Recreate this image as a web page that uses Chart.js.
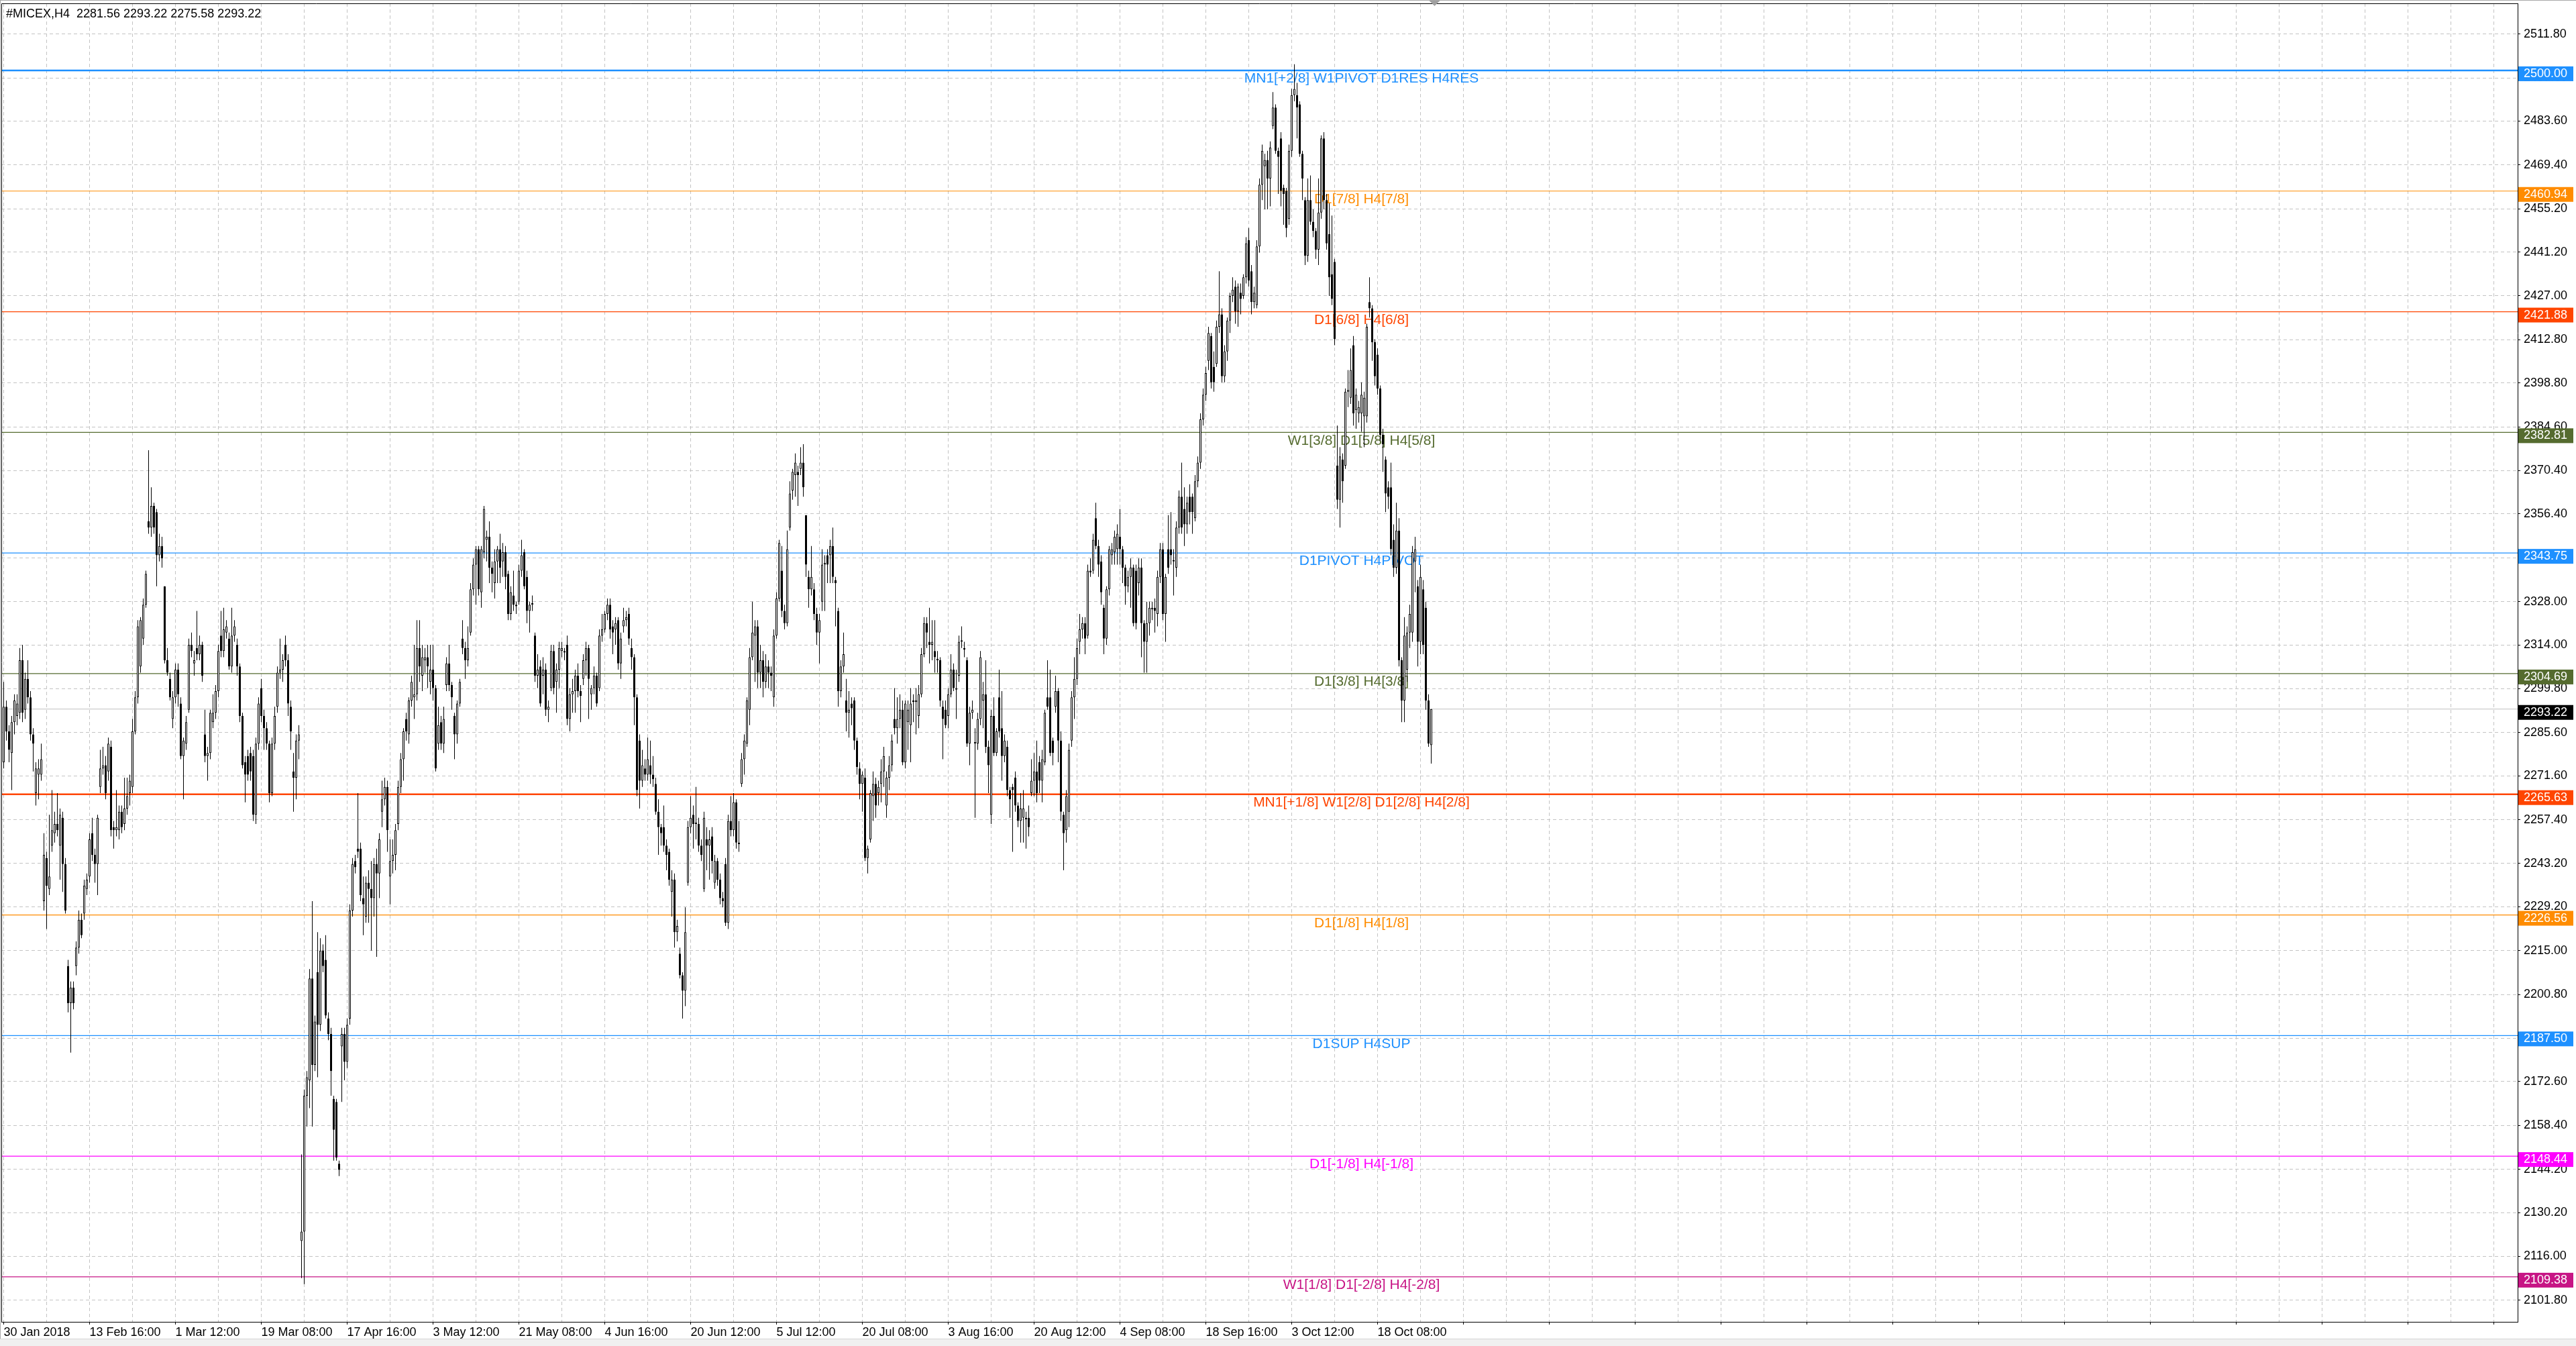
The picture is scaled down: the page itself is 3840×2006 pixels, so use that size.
<!DOCTYPE html>
<html lang="en">
<head>
<meta charset="UTF-8">
<title>#MICEX,H4</title>
<script src="https://cdn.jsdelivr.net/npm/chart.js"></script>
<style>
  html, body { margin: 0; padding: 0; background: #ffffff; overflow: hidden; }
  .wrap { position: relative; width: 3840px; height: 2006px; }
</style>
</head>
<body>
<div class="wrap"><canvas id="chart"></canvas></div>
<script>
// ---------- data ----------
const symbol = '#MICEX';
const timeframe = 'H4';

// one time label every 32 bars
const timeLabels = ['30 Jan 2018', '13 Feb 16:00', '1 Mar 12:00', '19 Mar 08:00', '17 Apr 16:00',
  '3 May 12:00', '21 May 08:00', '4 Jun 16:00', '20 Jun 12:00', '5 Jul 12:00', '20 Jul 08:00',
  '3 Aug 16:00', '20 Aug 12:00', '4 Sep 08:00', '18 Sep 16:00', '3 Oct 12:00', '18 Oct 08:00'];

const priceTicks = [2511.80, 2497.60, 2483.60, 2469.40, 2455.20, 2441.20, 2427.00, 2412.80, 2398.80,
  2384.60, 2370.40, 2356.40, 2342.20, 2328.00, 2314.00, 2299.80, 2285.60, 2271.60, 2257.40, 2243.20,
  2229.20, 2215.00, 2200.80, 2186.60, 2172.60, 2158.40, 2144.20, 2130.20, 2116.00, 2101.80];

const opens = [
  2276,2294,2286,2279,2289,2291,2292,2309,2293,2303,
  2297,2285,2266,2272,2272,2231,2245,2235,2249,2253,
  2256,2249,2258,2243,2210,2198,2203,2210,2216,2225,
  2227,2235,2239,2253,2246,2243,2268,2274,2275,2273,
  2281,2255,2254,2254,2260,2256,2261,2266,2268,2286,
  2297,2307,2316,2327,2354,2352,2359,2357,2343,2346,
  2333,2309,2303,2290,2297,2306,2295,2278,2282,2293,
  2314,2308,2313,2311,2314,2285,2278,2279,2289,2292,
  2299,2317,2312,2318,2316,2307,2317,2314,2307,2291,
  2276,2278,2279,2278,2259,2282,2300,2291,2287,2282,
  2266,2282,2294,2305,2306,2314,2309,2294,2273,2271,
  2283,2121,2124,2168,2173,2206,2178,2208,2191,2215,
  2212,2193,2188,2167,2166,2146,2184,2188,2179,2193,
  2228,2244,2248,2248,2232,2226,2237,2235,2232,2243,
  2240,2260,2264,2268,2239,2244,2246,2256,2268,2277,
  2290,2285,2296,2297,2298,2313,2304,2309,2310,2302,
  2306,2300,2282,2289,2282,2301,2308,2301,2291,2285,
  2295,2316,2313,2309,2318,2332,2340,2345,2331,2344,
  2348,2349,2339,2334,2341,2345,2341,2344,2337,2324,
  2330,2327,2328,2338,2344,2336,2325,2327,2317,2304,
  2307,2304,2306,2293,2300,2312,2302,2306,2312,2312,
  2314,2290,2298,2299,2304,2299,2303,2309,2313,2298,
  2300,2304,2300,2317,2319,2324,2327,2320,2319,2322,
  2308,2320,2322,2324,2313,2310,2297,2283,2270,2274,
  2272,2275,2272,2269,2260,2255,2255,2249,2247,2234,
  2238,2221,2214,2207,2202,2237,2255,2259,2256,2256,
  2249,2235,2251,2249,2252,2237,2244,2238,2232,2243,
  2224,2257,2254,2263,2250,2269,2277,2282,2293,2310,
  2317,2320,2305,2309,2302,2307,2305,2297,2317,2329,
  2338,2325,2321,2352,2364,2369,2370,2371,2373,2356,
  2336,2332,2332,2324,2318,2328,2340,2343,2343,2346,
  2335,2325,2299,2307,2296,2292,2295,2296,2283,2274,
  2269,2271,2245,2251,2265,2269,2266,2269,2273,2262,
  2271,2275,2290,2287,2290,2293,2276,2289,2288,2296,
  2295.5,2291,2298,2311,2321,2315,2314,2312,2309.5,2309,
  2294,2293,2291,2298,2306,2299.5,2304,2315,2313,2309,
  2282,2292,2282,2282,2290,2296,2298,2281,2259,2291,
  2279,2297,2287,2278,2281,2267,2268,2271,2262,2257,
  2258,2258,2258,2266,2270,2273,2276,2270,2276,2297,
  2297,2283,2294,2299,2283,2259,2254,2260,2283,2297,
  2303,2315,2319,2321,2317,2338,2338,2355,2346,2341,
  2326,2316,2332,2343,2344,2345,2349,2345,2339,2333,
  2336,2339,2338,2334,2339,2321,2315,2321,2325.5,2326,
  2324,2336,2345,2324,2345,2345,2341.5,2339,2352,2362,
  2358,2353,2362,2362,2355,2367,2373,2387,2395,2406,
  2414,2404,2405,2417,2421,2401,2409,2419,2427,2430,
  2422,2428,2427,2433,2445,2435,2425,2424,2443,2463,
  2469,2471,2465,2482,2488,2474,2478,2462,2461,2452,
  2474,2492,2492,2489,2473,2458,2440,2458,2451,2448,
  2442,2454,2478,2458,2447,2434,2438,2372,2361,2374,
  2372,2396,2394,2411,2390,2389,2389,2388,2388,2425,
  2423,2412,2408,2397,2382,2374,2365,2365,2348,2339,
  2351,2309,2296,2306,2318,2318,2341,2333,2315,2332,
  2326,2296,2281.56];

const highs = [
  2302,2296,2288,2291,2298,2298,2313,2314,2305,2309,
  2299,2287,2276,2277,2282,2253,2247,2259,2267,2260,
  2266,2261,2260,2245,2212,2205,2205,2218,2228,2227,
  2238,2240,2253,2258,2248,2259,2280,2281,2278,2284,
  2283,2257,2267,2262,2262,2271,2271,2272,2290,2299,
  2322,2323,2329,2338,2377,2365,2360,2358,2350,2349,
  2333,2313,2305,2299,2308,2308,2297,2284,2291,2316,
  2318,2312,2325,2317,2315,2293,2281,2293,2298,2301,
  2314,2325,2326,2322,2318,2326,2322,2316,2308,2292,
  2278,2280,2281,2280,2284,2297,2303,2293,2289,2283,
  2284,2294,2307,2316,2311,2317,2311,2296,2279,2285,
  2288,2149,2170,2176,2209,2231,2194,2221,2219,2217,
  2220,2195,2190,2168,2167,2147,2190,2190,2193,2230,
  2245,2246,2266,2250,2239,2239,2241,2244,2245,2248,
  2253,2270,2271,2270,2251,2251,2256,2270,2279,2287,
  2292,2297,2304,2314,2322,2322,2314,2313,2314,2314,
  2314,2301,2294,2291,2294,2310,2314,2302,2292,2296,
  2303,2322,2315,2320,2334,2342,2346,2346,2346,2359,
  2351,2354,2341,2345,2346,2350,2347,2346,2338,2333,
  2338,2328,2340,2348,2345,2338,2328,2330,2318,2311,
  2309,2310,2308,2296,2314,2314,2308,2315,2315,2313,
  2317,2300,2303,2306,2308,2301,2311,2315,2314,2301,
  2307,2305,2319,2324,2325,2329,2329,2322,2323,2323,
  2318,2326,2325,2326,2316,2311,2298,2285,2280,2277,
  2284,2283,2278,2271,2264,2256,2262,2251,2248,2241,
  2240,2225,2216,2208,2229,2257,2265,2262,2268,2258,
  2251,2260,2255,2254,2255,2246,2245,2240,2234,2245,
  2259,2265,2266,2264,2257,2279,2285,2297,2313,2328,
  2322,2322,2314,2312,2311,2309,2307,2319,2331,2348,
  2346,2327,2351,2367,2371,2376,2372,2378,2379,2356,
  2338,2346,2334,2326,2324,2345,2343,2345,2348,2352,
  2336,2326,2309,2318,2303,2299,2297,2297,2284,2276,
  2273,2274,2249,2267,2273,2271,2270,2277,2281,2273,
  2278,2285,2300,2297,2298,2296,2296,2296,2300,2298,
  2300,2301,2313,2323,2323,2326,2322,2322,2312,2310,
  2296,2296,2300,2311,2308,2306,2317,2320,2315,2310,
  2294,2296,2287,2292,2312,2302,2309,2283,2293,2297,
  2287,2306,2299,2285,2283,2268,2269,2273,2263,2266,
  2267,2260,2262,2277,2279,2283,2278,2280,2293,2309,
  2306,2284,2304,2300,2286,2260,2267,2282,2299,2310,
  2316,2324,2323,2323,2340,2342,2350,2360,2348,2343,
  2327,2333,2346,2347,2351,2353,2358,2346,2340,2338,
  2342,2340,2340,2342,2342,2322,2328,2328,2328,2329,
  2338,2347,2347,2337,2356,2357,2345,2354,2364,2373,
  2365,2362,2366,2363,2369,2375,2389,2397,2404,2417,
  2415,2409,2419,2435,2423,2411,2420,2428,2433,2432,
  2431,2431,2434,2446,2449,2437,2430,2445,2465,2476,
  2473,2474,2477,2493,2489,2475,2480,2463,2462,2476,
  2494,2502,2496,2490,2474,2459,2465,2466,2455,2449,
  2465,2479,2480,2460,2457,2453,2439,2385,2378,2376,
  2397,2403,2410,2414,2397,2393,2399,2396,2418,2433,
  2424,2413,2410,2398,2384,2375,2367,2373,2353,2360,
  2355,2310,2323,2320,2327,2346,2349,2335,2340,2335,
  2328,2298,2293.22];

const lows = [
  2274,2283,2276,2267,2285,2288,2290,2289,2290,2295,
  2283,2273,2262,2264,2270,2228,2222,2233,2247,2250,
  2252,2238,2234,2227,2195,2182,2196,2207,2214,2219,
  2225,2233,2237,2244,2237,2233,2266,2272,2264,2270,
  2252,2248,2252,2251,2253,2254,2259,2262,2266,2285,
  2295,2305,2314,2326,2350,2349,2350,2333,2341,2339,
  2308,2304,2296,2287,2295,2294,2277,2264,2280,2292,
  2310,2304,2309,2309,2302,2276,2270,2277,2287,2290,
  2297,2310,2310,2316,2306,2305,2315,2304,2289,2274,
  2263,2270,2270,2257,2256,2280,2289,2280,2280,2263,
  2265,2280,2292,2303,2302,2307,2291,2280,2260,2264,
  2277,2109,2107,2158,2164,2158,2176,2174,2189,2208,
  2193,2186,2168,2147,2147,2142,2166,2173,2177,2191,
  2226,2240,2245,2231,2220,2224,2224,2215,2226,2213,
  2232,2255,2262,2247,2230,2240,2241,2254,2266,2270,
  2283,2282,2294,2290,2296,2302,2299,2305,2300,2298,
  2296,2273,2280,2280,2279,2299,2299,2293,2277,2282,
  2294,2311,2303,2307,2317,2330,2327,2330,2326,2342,
  2341,2334,2331,2329,2334,2334,2336,2332,2322,2322,
  2325,2324,2327,2336,2332,2321,2318,2325,2302,2300,
  2294,2298,2291,2289,2299,2298,2292,2300,2310,2309,
  2288,2286,2292,2292,2297,2289,2301,2304,2290,2293,
  2298,2294,2299,2315,2318,2322,2316,2311,2314,2306,
  2303,2318,2320,2314,2306,2288,2265,2261,2268,2270,
  2270,2269,2268,2259,2246,2249,2247,2241,2236,2226,
  2216,2218,2206,2193,2197,2236,2253,2248,2251,2247,
  2244,2234,2241,2238,2240,2235,2236,2230,2229,2223,
  2222,2252,2252,2248,2247,2268,2272,2281,2288,2309,
  2302,2300,2300,2297,2300,2300,2299,2294,2316,2328,
  2323,2319,2320,2351,2361,2362,2359,2369,2362,2336,
  2326,2330,2322,2314,2308,2325,2325,2334,2334,2334,
  2320,2294,2297,2305,2286,2284,2288,2280,2272,2264,
  2260,2244,2240,2250,2257,2258,2262,2263,2268,2258,
  2267,2273,2285,2282,2287,2275,2274,2280,2276,2289,
  2285,2287,2297,2310,2313,2308,2309,2305,2305,2294,
  2277,2287,2287,2297,2299,2290,2302,2313,2310,2281,
  2275,2290,2258,2280,2288,2287,2279,2266,2256,2278,
  2278,2284,2270,2276,2265,2258,2247,2260,2255,2250,
  2250,2248,2252,2265,2265,2263,2266,2263,2275,2293,
  2278,2275,2292,2276,2257,2241,2250,2255,2281,2290,
  2301,2311,2316,2311,2316,2336,2337,2345,2336,2327,
  2311,2314,2330,2340,2340,2340,2340,2334,2327,2331,
  2326,2320,2319,2330,2310,2305,2305,2317,2322,2318,
  2320,2334,2322,2315,2337,2340,2330,2336,2350,2350,
  2346,2350,2353,2350,2354,2365,2371,2385,2393,2403,
  2397,2396,2404,2415,2399,2399,2406,2415,2425,2418,
  2417,2421,2426,2431,2430,2421,2423,2423,2441,2458,
  2455,2455,2456,2481,2473,2460,2456,2450,2446,2450,
  2472,2490,2478,2472,2458,2437,2438,2450,2446,2439,
  2437,2452,2455,2442,2427,2424,2411,2358,2352,2360,
  2371,2391,2392,2385,2384,2386,2383,2378,2386,2420,
  2406,2398,2395,2380,2370,2357,2358,2343,2336,2337,
  2307,2289,2289,2302,2313,2315,2331,2307,2311,2311,
  2293,2281,2275.58];

const closes = [
  2294,2286,2280,2289,2296,2295,2309,2292,2303,2297,
  2285,2282,2274,2274,2277,2246,2236,2239,2254,2256,
  2254,2259,2243,2228,2198,2203,2198,2216,2225,2220,
  2236,2238,2251,2246,2243,2258,2274,2275,2266,2282,
  2254,2254,2255,2260,2255,2261,2265,2270,2286,2297,
  2320,2322,2327,2337,2352,2359,2352,2343,2346,2342,
  2309,2305,2297,2297,2306,2298,2278,2283,2289,2314,
  2312,2309,2311,2314,2304,2278,2279,2292,2292,2299,
  2312,2312,2319,2320,2307,2317,2320,2307,2291,2275,
  2272,2272,2273,2259,2282,2295,2291,2287,2282,2266,
  2282,2291,2305,2306,2309,2309,2295,2286,2271,2283,
  2285,2124,2168,2174,2206,2178,2192,2191,2215,2210,
  2194,2188,2176,2157,2148,2144,2188,2179,2191,2228,
  2243,2242,2247,2233,2230,2237,2235,2232,2243,2240,
  2251,2264,2268,2254,2244,2246,2254,2268,2277,2286,
  2286,2296,2302,2298,2313,2307,2310,2310,2307,2306,
  2300,2274,2288,2282,2290,2308,2301,2297,2285,2295,
  2302,2313,2309,2313,2332,2340,2345,2332,2345,2358,
  2349,2339,2337,2341,2345,2339,2344,2336,2324,2331,
  2327,2326.5,2338,2343,2333,2325,2327,2327.5,2304,2306,
  2295,2306,2293,2294,2312,2300,2306,2313,2313,2311.5,
  2290,2298,2299,2304,2299,2297.5,2309,2313,2303,2300,
  2304,2295,2317,2319,2324,2327,2319,2318,2321,2308,
  2316,2322,2323,2316,2310,2297,2267,2270,2275,2272,
  2277,2272,2270.5,2260,2255,2253,2249,2246,2238,2238,
  2221,2223,2207,2202,2221,2255,2258,2256,2256.5,2249,
  2246,2258,2249,2251,2244,2244,2238,2232,2231,2224,
  2257,2254,2263,2250,2249.5,2277,2283,2296,2310,2318,
  2320,2305,2309,2302,2307,2305,2304,2317,2329,2347,
  2325,2321,2345,2363,2370,2373,2369,2373,2365,2340,
  2332,2336,2324,2318,2322,2340,2340.5,2340,2346,2336,
  2334,2299,2307,2311,2292,2293,2293.5,2283,2274.5,2269,
  2272,2245,2248,2266,2269,2262,2268,2273,2278,2271,
  2275,2283,2287,2290,2293,2276,2295,2293,2295,2295.5,
  2296,2298,2311,2321,2318,2314,2315,2310,2309,2296,
  2290,2288,2298,2306,2300,2300,2315,2315.5,2312.5,2282,
  2292,2293,2282.5,2290,2310,2298,2281,2275,2291,2279,
  2286,2286,2278,2283,2267,2264,2267,2262,2257,2261,
  2261,2257.5,2255,2270,2273,2266,2270,2277,2292,2294,
  2279,2279,2299,2283,2260,2253,2265,2280,2297,2303,
  2313,2319,2321,2316,2338,2337.5,2348,2346,2340,2331,
  2316,2332,2345,2345,2349,2350,2345,2339,2333,2336,
  2339,2321,2321,2339,2321,2315,2321,2326,2326,2325,
  2336,2345,2324,2336,2339,2343,2341,2352,2362,2352,
  2353,2360,2357,2357,2367,2373,2387,2395,2402,2415,
  2399,2399,2417,2421,2401,2409,2419,2427,2429,2422,
  2430,2426,2433,2444,2432,2425,2428,2443,2463,2474,
  2471,2465,2475,2488,2474,2472,2461,2460,2449,2474,
  2492,2494,2488,2473,2465,2440,2458,2451,2448,2442,
  2454,2478,2458,2444,2433,2426,2413,2361,2375,2367,
  2396,2396.5,2403,2389,2395,2391,2395,2394,2417,2423,
  2412,2401,2397,2382,2379,2363,2362,2345,2339,2351,
  2309,2296,2317,2318,2324,2344,2345,2315,2336,2314,
  2296,2282,2293.22];

// Murrey / pivot levels drawn as horizontal lines
const levelPrices = [2500.00, 2460.94, 2421.88, 2382.81, 2343.75, 2304.69,
  2265.63, 2226.56, 2187.50, 2148.44, 2109.38];
const levelNames = ['MN1[+2/8] W1PIVOT D1RES H4RES', 'D1[7/8] H4[7/8]', 'D1[6/8] H4[6/8]',
  'W1[3/8] D1[5/8] H4[5/8]', 'D1PIVOT H4PIVOT', 'D1[3/8] H4[3/8]',
  'MN1[+1/8] W1[2/8] D1[2/8] H4[2/8]', 'D1[1/8] H4[1/8]', 'D1SUP H4SUP',
  'D1[-1/8] H4[-1/8]', 'W1[1/8] D1[-2/8] H4[-2/8]'];

// ---------- styles ----------
const levelColors = ['#1e90ff', '#ff8c00', '#ff4500', '#556b2f', '#1e90ff', '#556b2f',
  '#ff4500', '#ff8c00', '#1e90ff', '#ff00ff', '#c71585'];
const levelThick = [true, false, false, false, false, false, true, false, false, false, false];

const FONT = '"Liberation Sans", Arial, sans-serif';
const X_MIN = -0.875, X_MAX = 936.875;  // 4 px per bar
const Y_MIN = 2094.8, Y_MAX = 2521.72;
const LABEL_BAR = 506;                  // where the level captions sit

const last = closes.length - 1;
const header = symbol + ',' + timeframe + '  ' +
  [opens[last], highs[last], lows[last], closes[last]].map(v => v.toFixed(2)).join(' ');

// ---------- datasets ----------
const wickData = opens.map((o, i) => ({ x: i, y: [lows[i], highs[i]] }));
const bodyData = opens.map((o, i) => ({ x: i, y: [o, closes[i]] }));

const datasets = [
  {
    type: 'bar', data: bodyData, order: 0, grouped: false,
    categoryPercentage: 1, barPercentage: 1, maxBarThickness: 3,
    borderWidth: 1, borderColor: '#000000', borderSkipped: false, inflateAmount: 0,
    backgroundColor: ctx => closes[ctx.dataIndex] >= opens[ctx.dataIndex] ? '#ffffff' : '#000000'
  },
  {
    type: 'bar', data: wickData, order: 1, grouped: false,
    categoryPercentage: 1, barPercentage: 1, maxBarThickness: 1,
    borderWidth: 0, inflateAmount: 0, backgroundColor: '#000000'
  },
  {
    type: 'line', order: 2, pointRadius: 0, borderWidth: 1.2, borderColor: '#c0c0c0',
    data: [{ x: X_MIN, y: closes[last] }, { x: X_MAX, y: closes[last] }]
  }
];
levelPrices.forEach((p, k) => {
  datasets.push({
    type: 'line', order: 3, pointRadius: 0,
    borderWidth: levelThick[k] ? 2.4 : 1.2, borderColor: levelColors[k],
    data: [{ x: X_MIN, y: p }, { x: X_MAX, y: p }]
  });
});

// ---------- extra drawing: captions, price boxes, frame ----------
const decor = {
  id: 'decor',
  beforeDraw(chart) {
    const { ctx, width, height } = chart;
    ctx.save();
    ctx.fillStyle = '#ffffff';
    ctx.fillRect(0, 0, width, height);
    ctx.fillStyle = '#f0f0f0';
    ctx.fillRect(0, 1995, width, height - 1995);
    ctx.fillStyle = '#d4d4d4';
    ctx.fillRect(0, 1995, width, 1);
    ctx.fillStyle = '#a8a8a8';
    ctx.fillRect(0, 0, width, 1);
    ctx.fillRect(0, 0, 1, 1995);
    ctx.restore();
  },
  beforeDatasetsDraw(chart) {
    const { ctx, chartArea: a, scales: { x, y } } = chart;
    ctx.save();
    ctx.beginPath();
    ctx.rect(a.left, a.top, a.right - a.left, a.bottom - a.top);
    ctx.clip();
    ctx.font = '21px ' + FONT;
    ctx.textAlign = 'center';
    ctx.textBaseline = 'top';
    const cx = x.getPixelForValue(LABEL_BAR);
    levelPrices.forEach((p, k) => {
      ctx.fillStyle = levelColors[k];
      ctx.fillText(levelNames[k], cx, y.getPixelForValue(p) + 2);
    });
    ctx.restore();
  },
  afterDraw(chart) {
    const { ctx, chartArea: a, scales: { x, y } } = chart;
    ctx.save();
    // frame (bottom and right come from the axes)
    ctx.strokeStyle = '#000000';
    ctx.lineWidth = 1;
    ctx.beginPath();
    ctx.moveTo(a.left + 0.5, a.bottom);
    ctx.lineTo(a.left + 0.5, a.top + 0.5);
    ctx.lineTo(a.right, a.top + 0.5);
    ctx.stroke();

    // price boxes on the right scale
    ctx.font = '18px ' + FONT;
    ctx.textAlign = 'left';
    ctx.textBaseline = 'middle';
    const bx = a.right + 1;
    const box = (p, bg) => {
      const py = y.getPixelForValue(p);
      ctx.fillStyle = bg;
      ctx.fillRect(bx, py - 6, 82, 22);
      ctx.fillStyle = '#ffffff';
      ctx.fillText(p.toFixed(2), bx + 8, py + 5);
    };
    levelPrices.forEach((p, k) => box(p, levelColors[k]));
    box(closes[last], '#000000');

    // header
    ctx.fillStyle = '#000000';
    ctx.fillText(header, 9, 21);

    // chart shift marker
    const sx = x.getPixelForValue(last + 1.25);
    ctx.fillStyle = '#a0a0a0';
    ctx.beginPath();
    ctx.moveTo(sx - 8, 1);
    ctx.lineTo(sx + 8, 1);
    ctx.lineTo(sx, 9);
    ctx.closePath();
    ctx.fill();
    ctx.restore();
  }
};

new Chart(document.getElementById('chart'), {
  type: 'bar',
  data: { datasets },
  plugins: [decor],
  options: {
    responsive: true,
    maintainAspectRatio: false,
    animation: false,
    devicePixelRatio: 1,
    events: [],
    layout: { padding: { top: 5, left: 2, right: 0, bottom: 0 } },
    plugins: { legend: { display: false }, tooltip: { enabled: false } },
    scales: {
      x: {
        type: 'linear', min: X_MIN, max: X_MAX, offset: false,
        afterBuildTicks: scale => {
          const t = [];
          for (let v = 0; v <= X_MAX; v += 16) t.push({ value: v });
          scale.ticks = t;
        },
        afterFit: scale => {
          scale.height = 36;
          scale.paddingLeft = 0;
          scale.paddingRight = 0;
        },
        grid: {
          offset: false, color: '#c4c4c4', lineWidth: 1, tickLength: 4,
          tickColor: ctx => (ctx.tick && ctx.tick.value % 32 === 0) ? '#000000' : 'rgba(0,0,0,0)'
        },
        border: { color: '#000000', width: 1, dash: [5, 4] },
        ticks: {
          autoSkip: false, maxRotation: 0, minRotation: 0, align: 'start', padding: 1,
          color: '#000000', font: { family: FONT, size: 18 },
          callback: v => (v % 32 === 0 && timeLabels[v / 32]) ? timeLabels[v / 32] : ''
        }
      },
      y: {
        type: 'linear', position: 'right', min: Y_MIN, max: Y_MAX, beginAtZero: false,
        afterBuildTicks: scale => { scale.ticks = priceTicks.map(v => ({ value: v })); },
        afterFit: scale => {
          scale.width = 87;
          scale.paddingTop = 0;
          scale.paddingBottom = 0;
        },
        grid: { color: '#c4c4c4', lineWidth: 1, tickLength: 4, tickColor: '#000000' },
        border: { color: '#000000', width: 1, dash: [5, 4] },
        ticks: {
          autoSkip: false, padding: 5, crossAlign: 'near',
          color: '#000000', font: { family: FONT, size: 18 },
          callback: v => Number(v).toFixed(2)
        }
      }
    }
  }
});
</script>
</body>
</html>
